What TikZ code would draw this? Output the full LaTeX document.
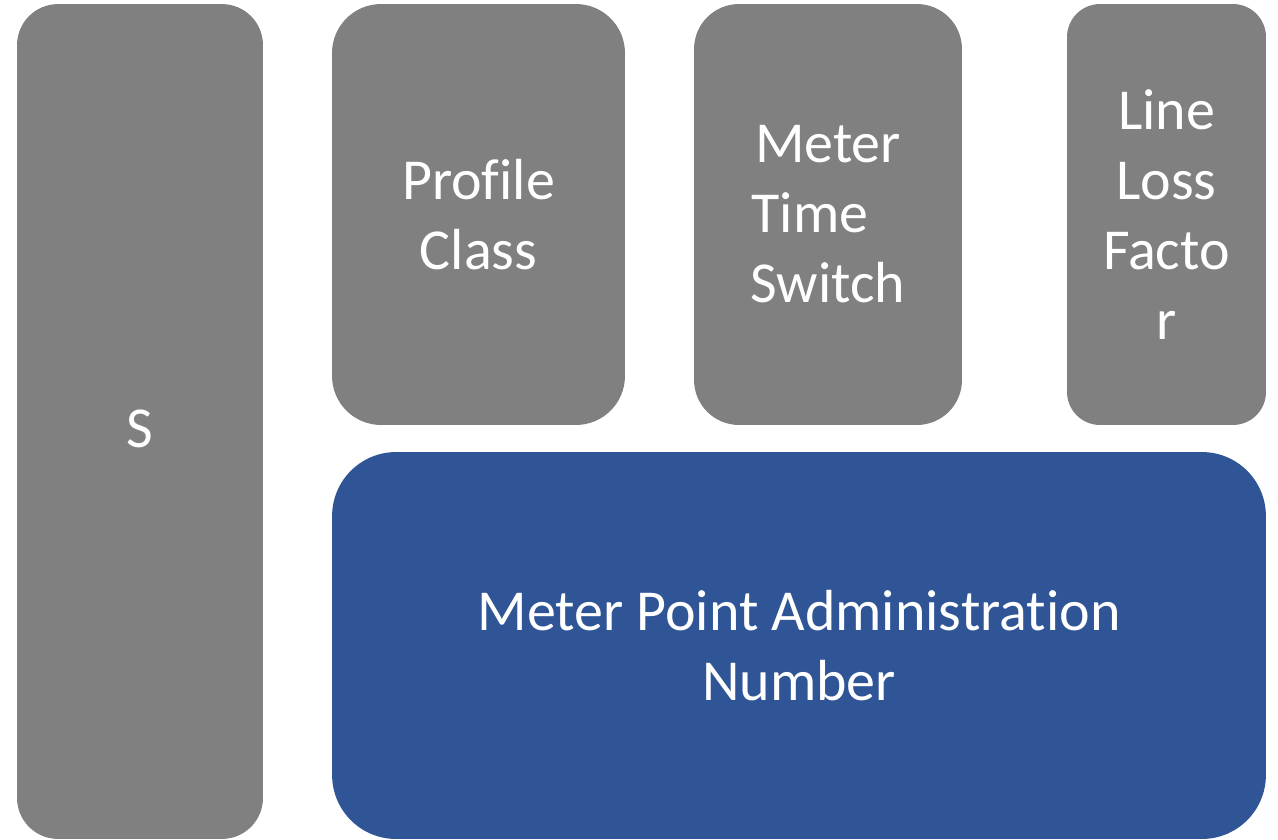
\documentclass[tikz,border=0pt]{standalone}
\usepackage{fontspec}
\setmainfont[Ligatures=NoCommon]{Carlito}
\definecolor{boxgray}{HTML}{808080}
\definecolor{boxblue}{HTML}{2F5597}
\begin{document}
\begin{tikzpicture}[x=0.02cm, y=-0.02cm,
   every node/.style={rectangle, text=white, align=center, inner sep=0pt,
      font=\fontsize{33}{39.8}\selectfont},
   greybox/.style={fill=boxgray},
   bluebox/.style={fill=boxblue}]

\useasboundingbox (0,0) rectangle (1278,839);

\node[greybox, minimum width=4.92cm, minimum height=16.7cm, rounded corners=0.82cm] (s) at (140,421.5) {\raisebox{-0.14cm}[\height][\depth]{S}};
\node[greybox, minimum width=5.86cm, minimum height=8.42cm, rounded corners=0.98cm] (profile) at (478.5,214.5) {Profile\\Class};
\node[greybox, minimum width=5.36cm, minimum height=8.42cm, rounded corners=0.9cm] (mts) at (828,214.5) {Meter\\Time\kern0.62em\\Switch};
\node[greybox, minimum width=3.98cm, minimum height=8.42cm, rounded corners=0.66cm] (llf) at (1166.5,214.5) {Line\\Loss\\Facto\\r};
\node[bluebox, minimum width=18.68cm, minimum height=7.74cm, rounded corners=1.28cm] (mpan) at (799,645.5) {Meter Point Administration\\Number};

\end{tikzpicture}
\end{document}
